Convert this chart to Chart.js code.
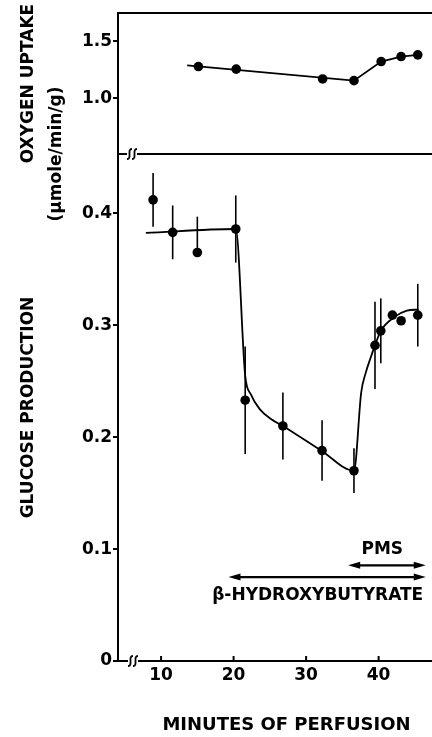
<!DOCTYPE html>
<html>
<head>
<meta charset="utf-8">
<script src="https://cdn.jsdelivr.net/npm/chart.js@4.4.1/dist/chart.umd.min.js"></script>
<style>
  html, body { margin: 0; padding: 0; background: #fff; }
</style>
</head>
<body>
<canvas id="chart" width="432" height="737"></canvas>
<script>
// glucose production (umole/min/g) vs minutes of perfusion
const gluTime = [8.9, 11.6, 15.0, 20.3, 21.6, 26.8, 32.2, 36.6, 39.5, 40.3, 41.9, 43.1, 45.4];
const gluValue = [0.412, 0.383, 0.365, 0.386, 0.233, 0.210, 0.188, 0.170, 0.282, 0.295, 0.309, 0.304, 0.309];
const gluErrUp = [0.024, 0.024, 0.032, 0.030, 0.048, 0.030, 0.027, 0.020, 0.039, 0.029, 0, 0, 0.028];
const gluErrDown = [0.024, 0.024, 0, 0.030, 0.048, 0.030, 0.027, 0.020, 0.039, 0.029, 0, 0, 0.028];

// hand-drawn fitted curve through the glucose points
const gluCurveTime = [7.9, 20.3, 21.6, 22.4, 23.6, 25.2, 26.8, 32.2, 36.6, 37.6, 38.2, 38.9, 39.5, 40.3, 42.1, 43.9, 45.5];
const gluCurveValue = [0.3825, 0.386, 0.255, 0.238, 0.225, 0.216, 0.210, 0.1875, 0.170, 0.240, 0.257, 0.271, 0.282, 0.295, 0.307, 0.313, 0.314];

// oxygen uptake
const oxyTime = [15.15, 20.36, 32.28, 36.6, 40.35, 43.1, 45.4];
const oxyValue = [1.279, 1.256, 1.170, 1.155, 1.323, 1.367, 1.382];
const oxyCurveTime = [13.6, 36.6, 40.35, 43.1, 45.4];
const oxyCurveValue = [1.29, 1.155, 1.323, 1.367, 1.382];

// ticks
const xTicks = [10, 20, 30, 40];
const gluTicks = [0, 0.1, 0.2, 0.3, 0.4];
const oxyTicks = [1.0, 1.5];

// treatment periods (minutes)
const pmsPeriod = [35.8, 46.5];
const bhbPeriod = [19.3, 46.5];

const FONT = "'DejaVu Sans', sans-serif";
const toPts = (xs, ys) => xs.map((x, i) => ({ x: x, y: ys[i] }));

const drawArrow = (ctx, x1, x2, y) => {
  ctx.beginPath();
  ctx.moveTo(x1 + 6, y);
  ctx.lineTo(x2 - 6, y);
  ctx.stroke();
  [[x1, 1], [x2, -1]].forEach(([x, d]) => {
    ctx.beginPath();
    ctx.moveTo(x, y);
    ctx.lineTo(x + d * 12, y - 3.5);
    ctx.lineTo(x + d * 12, y + 3.5);
    ctx.closePath();
    ctx.fill();
  });
};

const drawBreak = (ctx, x, y) => {
  // the little "ss" axis break mark
  ctx.save();
  ctx.lineWidth = 1.8;
  [0, 5].forEach((dx) => {
    ctx.beginPath();
    ctx.moveTo(x + dx - 2.5, y + 5);
    ctx.bezierCurveTo(x + dx + 3, y + 5, x + dx - 3, y - 5, x + dx + 2.5, y - 5);
    ctx.stroke();
  });
  ctx.restore();
};

const extras = {
  id: "extras",
  afterDatasetsDraw(chart) {
    const { ctx, chartArea } = chart;
    const xs = chart.scales.x;
    const yg = chart.scales.yGlu;
    const yo = chart.scales.yOxy;
    const right = chart.width;
    ctx.save();
    ctx.strokeStyle = "#000";
    ctx.fillStyle = "#000";

    // error bars
    ctx.lineWidth = 1.6;
    gluTime.forEach((t, i) => {
      const px = xs.getPixelForValue(t);
      ctx.beginPath();
      ctx.moveTo(px, yg.getPixelForValue(gluValue[i] + gluErrUp[i]));
      ctx.lineTo(px, yg.getPixelForValue(gluValue[i] - gluErrDown[i]));
      ctx.stroke();
    });

    // frame: top line and the break line between the panels
    ctx.lineWidth = 2;
    ctx.beginPath();
    ctx.moveTo(chartArea.left, chartArea.top);
    ctx.lineTo(right, chartArea.top);
    ctx.stroke();
    const by = yo.bottom;
    ctx.beginPath();
    ctx.moveTo(chartArea.left, by);
    ctx.lineTo(chartArea.left + 9, by);
    ctx.moveTo(chartArea.left + 19, by);
    ctx.lineTo(right, by);
    ctx.stroke();
    drawBreak(ctx, chartArea.left + 11.5, by);

    // bottom axis with its break
    ctx.fillStyle = "#fff";
    ctx.fillRect(chartArea.left + 10, chartArea.bottom - 2, 10, 4);
    ctx.fillStyle = "#000";
    ctx.beginPath();
    ctx.moveTo(chartArea.right, chartArea.bottom);
    ctx.lineTo(right, chartArea.bottom);
    ctx.stroke();
    drawBreak(ctx, chartArea.left + 12.5, chartArea.bottom);

    // x ticks pointing inward
    xTicks.forEach((t) => {
      const px = xs.getPixelForValue(t);
      ctx.beginPath();
      ctx.moveTo(px, chartArea.bottom);
      ctx.lineTo(px, chartArea.bottom - 5);
      ctx.stroke();
    });

    // treatment arrows
    ctx.lineWidth = 2.2;
    drawArrow(ctx, xs.getPixelForValue(pmsPeriod[0]), xs.getPixelForValue(pmsPeriod[1]), yg.getPixelForValue(0.0855));
    drawArrow(ctx, xs.getPixelForValue(bhbPeriod[0]), xs.getPixelForValue(bhbPeriod[1]), yg.getPixelForValue(0.075));
    ctx.font = "bold 17px " + FONT;
    ctx.textAlign = "center";
    ctx.textBaseline = "middle";
    ctx.fillText("PMS", xs.getPixelForValue(40.5), yg.getPixelForValue(0.0995));
    ctx.fillText("β-HYDROXYBUTYRATE", xs.getPixelForValue(31.6), yg.getPixelForValue(0.0585));

    // x axis title, centred under the labelled part of the axis
    ctx.font = "bold 18px " + FONT;
    ctx.fillText("MINUTES OF PERFUSION", xs.getPixelForValue(27.3), 725);

    // units label shared by both panels
    ctx.translate(57, by);
    ctx.rotate(-Math.PI / 2);
    ctx.font = "bold 17px " + FONT;
    ctx.fillText("(μmole/min/g)", 0, 0);
    ctx.restore();
  },
};

const yTitle = (text) => ({
  display: true,
  text: text,
  color: "#000",
  font: { family: FONT, size: 17, weight: "bold" },
  padding: { top: 18, bottom: 0 },
});

const yAxis = (ticks, extra) =>
  Object.assign(
    {
      type: "linear",
      position: "left",
      stack: "panels",
      border: { display: true, color: "#000", width: 2 },
      grid: { drawOnChartArea: false, drawTicks: true, tickLength: 5, color: "#000", lineWidth: 2 },
      ticks: {
        color: "#000",
        padding: 1,
        font: { family: FONT, size: 17, weight: "bold" },
        callback: (v) => (v === 0 ? "0" : v.toFixed(1)),
      },
      afterBuildTicks: (axis) => {
        axis.ticks = ticks.map((v) => ({ value: v }));
      },
      afterFit: (axis) => {
        axis.width = 118;
      },
    },
    extra
  );

new Chart(document.getElementById("chart"), {
  type: "line",
  data: {
    datasets: [
      {
        data: toPts(gluCurveTime, gluCurveValue),
        yAxisID: "yGlu",
        borderColor: "#000",
        borderWidth: 1.8,
        pointRadius: 0,
        cubicInterpolationMode: "monotone",
      },
      {
        data: toPts(gluTime, gluValue),
        yAxisID: "yGlu",
        showLine: false,
        pointRadius: 4.8,
        pointBackgroundColor: "#000",
        pointBorderWidth: 0,
      },
      {
        data: toPts(oxyCurveTime, oxyCurveValue),
        yAxisID: "yOxy",
        borderColor: "#000",
        borderWidth: 1.8,
        pointRadius: 0,
        tension: 0,
      },
      {
        data: toPts(oxyTime, oxyValue),
        yAxisID: "yOxy",
        showLine: false,
        pointRadius: 4.8,
        pointBackgroundColor: "#000",
        pointBorderWidth: 0,
      },
    ],
  },
  options: {
    responsive: false,
    animation: false,
    layout: { padding: { top: 13, right: 0, left: 0, bottom: 0 } },
    plugins: { legend: { display: false }, tooltip: { enabled: false } },
    scales: {
      x: {
        type: "linear",
        min: 4.06,
        max: 46.7,
        border: { display: true, color: "#000", width: 2 },
        grid: { display: false, drawTicks: false },
        ticks: { color: "#000", padding: 4, font: { family: FONT, size: 17, weight: "bold" } },
        afterBuildTicks: (axis) => {
          axis.ticks = xTicks.map((v) => ({ value: v }));
        },
        afterFit: (axis) => {
          axis.height = 76;
        },
      },
      yGlu: yAxis(gluTicks, { min: 0, max: 0.453, stackWeight: 507, title: yTitle("GLUCOSE PRODUCTION") }),
      yOxy: yAxis(oxyTicks, { min: 0.51, max: 1.75, stackWeight: 141, title: yTitle("OXYGEN UPTAKE") }),
    },
  },
  plugins: [extras],
});
</script>
</body>
</html>
